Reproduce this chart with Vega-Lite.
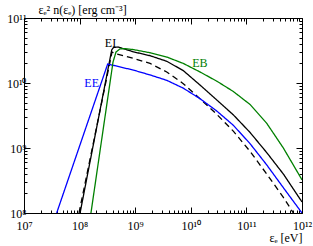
{
  "$schema": "https://vega.github.io/schema/vega-lite/v6.json",
  "width": 278,
  "height": 195,
  "autosize": {"type": "none"},
  "padding": {"left": 24, "top": 18, "right": 11, "bottom": 33},
  "background": "white",
  "config": {
    "view": {"stroke": "#000", "strokeWidth": 1},
    "axis": {
      "grid": false, "domain": false,
      "labelFont": "Liberation Serif", "titleFont": "Liberation Serif",
      "labelColor": "#000", "titleColor": "#000", "tickColor": "#000",
      "labelFontSize": 12, "titleFontSize": 12, "titleFontWeight": "normal",
      "labelOverlap": false, "labelFlush": false
    }
  },
  "datasets": {
    "curves": [
      {"curve": "EI", "e": 1.02e8, "n": 1e8},
      {"curve": "EI", "e": 3.78e8, "n": 3.22e10},
      {"curve": "EI", "e": 4.07e8, "n": 3.52e10},
      {"curve": "EI", "e": 4.91e8, "n": 3.58e10},
      {"curve": "EI", "e": 9.25e8, "n": 3.02e10},
      {"curve": "EI", "e": 1.85e9, "n": 2.63e10},
      {"curve": "EI", "e": 3.69e9, "n": 2.16e10},
      {"curve": "EI", "e": 7.33e9, "n": 1.55e10},
      {"curve": "EI", "e": 1.46e10, "n": 9.33e9},
      {"curve": "EI", "e": 2.92e10, "n": 5.5e9},
      {"curve": "EI", "e": 5.81e10, "n": 3.24e9},
      {"curve": "EI", "e": 1.16e11, "n": 1.74e9},
      {"curve": "EI", "e": 2.32e11, "n": 8.5e8},
      {"curve": "EI", "e": 4.62e11, "n": 3.98e8},
      {"curve": "EI", "e": 1e12, "n": 1.48e8},
      {"curve": "EIdash", "e": 9.75e7, "n": 1e8},
      {"curve": "EIdash", "e": 3.83e8, "n": 3.0e10},
      {"curve": "EIdash", "e": 4.34e8, "n": 2.84e10},
      {"curve": "EIdash", "e": 9.25e8, "n": 2.40e10},
      {"curve": "EIdash", "e": 1.85e9, "n": 2.0e10},
      {"curve": "EIdash", "e": 3.69e9, "n": 1.48e10},
      {"curve": "EIdash", "e": 7.33e9, "n": 9.77e9},
      {"curve": "EIdash", "e": 1.46e10, "n": 5.75e9},
      {"curve": "EIdash", "e": 2.92e10, "n": 3.31e9},
      {"curve": "EIdash", "e": 5.81e10, "n": 1.82e9},
      {"curve": "EIdash", "e": 1.16e11, "n": 8.9e8},
      {"curve": "EIdash", "e": 2.32e11, "n": 3.98e8},
      {"curve": "EIdash", "e": 4.62e11, "n": 1.74e8},
      {"curve": "EIdash", "e": 7.0e11, "n": 1e8},
      {"curve": "EE", "e": 3.87e7, "n": 1e8},
      {"curve": "EE", "e": 3.2e8, "n": 1.96e10},
      {"curve": "EE", "e": 9.25e8, "n": 1.58e10},
      {"curve": "EE", "e": 1.85e9, "n": 1.33e10},
      {"curve": "EE", "e": 3.69e9, "n": 1.10e10},
      {"curve": "EE", "e": 7.33e9, "n": 8.32e9},
      {"curve": "EE", "e": 1.46e10, "n": 5.75e9},
      {"curve": "EE", "e": 2.92e10, "n": 3.72e9},
      {"curve": "EE", "e": 5.81e10, "n": 2.24e9},
      {"curve": "EE", "e": 1.16e11, "n": 1.17e9},
      {"curve": "EE", "e": 2.32e11, "n": 5.5e8},
      {"curve": "EE", "e": 4.62e11, "n": 2.45e8},
      {"curve": "EE", "e": 1e12, "n": 1e8},
      {"curve": "EB", "e": 1.60e8, "n": 1e8},
      {"curve": "EB", "e": 3.99e8, "n": 2.10e10},
      {"curve": "EB", "e": 4.52e8, "n": 3.0e10},
      {"curve": "EB", "e": 5.33e8, "n": 3.35e10},
      {"curve": "EB", "e": 6.5e8, "n": 3.38e10},
      {"curve": "EB", "e": 9.25e8, "n": 3.27e10},
      {"curve": "EB", "e": 1.85e9, "n": 2.92e10},
      {"curve": "EB", "e": 3.69e9, "n": 2.51e10},
      {"curve": "EB", "e": 7.33e9, "n": 2.0e10},
      {"curve": "EB", "e": 1.46e10, "n": 1.48e10},
      {"curve": "EB", "e": 2.92e10, "n": 1.07e10},
      {"curve": "EB", "e": 5.81e10, "n": 7.41e9},
      {"curve": "EB", "e": 1.16e11, "n": 4.68e9},
      {"curve": "EB", "e": 2.32e11, "n": 2.40e9},
      {"curve": "EB", "e": 4.62e11, "n": 1.0e9},
      {"curve": "EB", "e": 1e12, "n": 3.24e8}
    ],
    "labels": [
      {"curve": "EI", "e": 3.6e8, "n": 4.17e10},
      {"curve": "EE", "e": 1.65e8, "n": 9.9e9},
      {"curve": "EB", "e": 1.46e10, "n": 2.01e10}
    ]
  },
  "layer": [
    {
      "data": {"name": "curves"},
      "mark": {"type": "line", "strokeWidth": 1.3, "clip": true},
      "encoding": {
        "x": {"field": "e", "type": "quantitative",
          "scale": {"type": "log", "domain": [1e7, 1e12], "nice": false},
          "axis": {"orient": "bottom", "values": [1e7, 1e8, 1e9, 1e10, 1e11, 1e12],
            "labelExpr": "datum.value == 1e7 ? '10⁷' : datum.value == 1e8 ? '10⁸' : datum.value == 1e9 ? '10⁹' : datum.value == 1e10 ? '10¹⁰' : datum.value == 1e11 ? '10¹¹' : '10¹²'",
            "tickSize": -6, "labelPadding": 13,
            "title": "εₑ [eV]", "titleX": 278, "titleY": 28, "titleAlign": "right", "titleBaseline": "alphabetic"}},
        "y": {"field": "n", "type": "quantitative",
          "scale": {"type": "log", "domain": [1e8, 1e11], "nice": false},
          "axis": {"orient": "left", "values": [1e8, 1e9, 1e10, 1e11],
            "labelExpr": "datum.value == 1e8 ? '10⁸' : datum.value == 1e9 ? '10⁹' : datum.value == 1e10 ? '10¹⁰' : '10¹¹'",
            "tickSize": -6, "labelPadding": 4,
            "title": "εₑ² n(εₑ) [erg cm⁻³]", "titleAngle": 0, "titleX": 14, "titleY": -5, "titleAlign": "left", "titleBaseline": "alphabetic"}},
        "color": {"field": "curve", "type": "nominal",
          "scale": {"domain": ["EI", "EIdash", "EE", "EB"], "range": ["#000000", "#000000", "#0000ff", "#008000"]}, "legend": null},
        "strokeDash": {"field": "curve", "type": "nominal",
          "scale": {"domain": ["EI", "EIdash", "EE", "EB"], "range": [[1, 0], [6, 4], [1, 0], [1, 0]]}, "legend": null}
      }
    },
    {
      "data": {"name": "curves"},
      "mark": {"type": "point", "opacity": 0},
      "encoding": {
        "x": {"field": "e", "type": "quantitative",
          "scale": {"type": "log", "domain": [1e7, 1e12], "nice": false},
          "axis": {"orient": "bottom", "labels": false, "title": null, "tickSize": -3,
            "values": [2e7,3e7,4e7,5e7,6e7,7e7,8e7,9e7,2e8,3e8,4e8,5e8,6e8,7e8,8e8,9e8,2e9,3e9,4e9,5e9,6e9,7e9,8e9,9e9,2e10,3e10,4e10,5e10,6e10,7e10,8e10,9e10,2e11,3e11,4e11,5e11,6e11,7e11,8e11,9e11]}},
        "y": {"field": "n", "type": "quantitative",
          "scale": {"type": "log", "domain": [1e8, 1e11], "nice": false},
          "axis": {"orient": "left", "labels": false, "title": null, "tickSize": -3,
            "values": [2e8,3e8,4e8,5e8,6e8,7e8,8e8,9e8,2e9,3e9,4e9,5e9,6e9,7e9,8e9,9e9,2e10,3e10,4e10,5e10,6e10,7e10,8e10,9e10]}}
      }
    },
    {
      "data": {"name": "curves"},
      "mark": {"type": "point", "opacity": 0},
      "encoding": {
        "x": {"field": "e", "type": "quantitative",
          "scale": {"type": "log", "domain": [1e7, 1e12], "nice": false},
          "axis": {"orient": "top", "labels": false, "title": null, "tickSize": -6,
            "values": [1e7, 1e8, 1e9, 1e10, 1e11, 1e12]}},
        "y": {"field": "n", "type": "quantitative",
          "scale": {"type": "log", "domain": [1e8, 1e11], "nice": false},
          "axis": {"orient": "right", "labels": false, "title": null, "tickSize": -6,
            "values": [1e8, 1e9, 1e10, 1e11]}}
      }
    },
    {
      "data": {"name": "curves"},
      "mark": {"type": "point", "opacity": 0},
      "encoding": {
        "x": {"field": "e", "type": "quantitative",
          "scale": {"type": "log", "domain": [1e7, 1e12], "nice": false},
          "axis": {"orient": "top", "labels": false, "title": null, "tickSize": -3,
            "values": [2e7,3e7,4e7,5e7,6e7,7e7,8e7,9e7,2e8,3e8,4e8,5e8,6e8,7e8,8e8,9e8,2e9,3e9,4e9,5e9,6e9,7e9,8e9,9e9,2e10,3e10,4e10,5e10,6e10,7e10,8e10,9e10,2e11,3e11,4e11,5e11,6e11,7e11,8e11,9e11]}},
        "y": {"field": "n", "type": "quantitative",
          "scale": {"type": "log", "domain": [1e8, 1e11], "nice": false},
          "axis": {"orient": "right", "labels": false, "title": null, "tickSize": -3,
            "values": [2e8,3e8,4e8,5e8,6e8,7e8,8e8,9e8,2e9,3e9,4e9,5e9,6e9,7e9,8e9,9e9,2e10,3e10,4e10,5e10,6e10,7e10,8e10,9e10]}}
      }
    },
    {
      "data": {"name": "labels"},
      "mark": {"type": "text", "font": "Liberation Serif", "fontSize": 12},
      "encoding": {
        "x": {"field": "e", "type": "quantitative",
          "scale": {"type": "log", "domain": [1e7, 1e12], "nice": false}, "axis": null},
        "y": {"field": "n", "type": "quantitative",
          "scale": {"type": "log", "domain": [1e8, 1e11], "nice": false}, "axis": null},
        "text": {"field": "curve"},
        "color": {"field": "curve", "type": "nominal",
          "scale": {"domain": ["EI", "EIdash", "EE", "EB"], "range": ["#000000", "#000000", "#0000ff", "#008000"]}, "legend": null}
      }
    }
  ],
  "resolve": {"axis": {"x": "independent", "y": "independent"}}
}
